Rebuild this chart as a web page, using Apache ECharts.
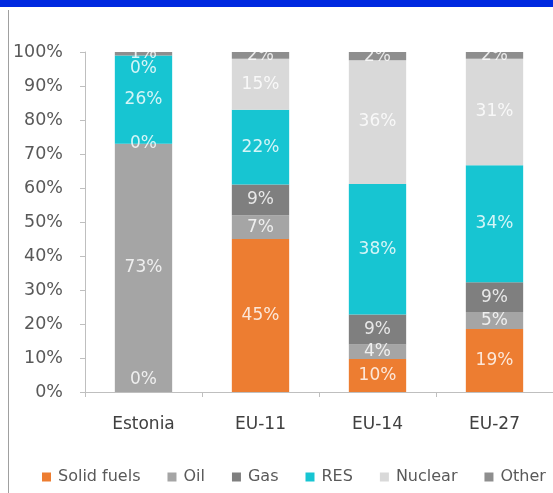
<!DOCTYPE html>
<html>
<head>
<meta charset="utf-8">
<script src="https://cdn.jsdelivr.net/npm/echarts@6/dist/echarts.min.js"></script>
<style>html,body{margin:0;padding:0;background:#fff;}#c{width:553px;height:493px;}</style>
</head>
<body>
<div id="c"></div>
<script>
var categories = ['Estonia', 'EU-11', 'EU-14', 'EU-27'];
var seriesNames = ['Solid fuels', 'Oil', 'Gas', 'RES', 'Nuclear', 'Other'];
var solidFuels = [0, 45, 9.7, 18.5];
var oil = [73, 7, 4.3, 5];
var gas = [0, 9, 8.8, 8.8];
var res = [26, 22, 38.4, 34.4];
var nuclear = [0, 15, 36.4, 31.3];
var other = [1, 2, 2.4, 2];
var yTicks = [0, 10, 20, 30, 40, 50, 60, 70, 80, 90, 100];

var seriesValues = [solidFuels, oil, gas, res, nuclear, other];
var colors = ['#ed7d31', '#a5a5a5', '#7f7f7f', '#17c5d2', '#d9d9d9', '#8e8e8e'];
// vertical nudge for labels of zero-height segments (per series)
var zeroShift = [-12, 3, 0, 0, 13, 0];

var FONT = 'DejaVu Sans';
var chart = echarts.init(document.getElementById('c'), null, {renderer: 'canvas'});

var series = seriesValues.map(function (vals, si) {
  return {
    name: seriesNames[si],
    type: 'bar',
    stack: 'total',
    barWidth: '49%',
    itemStyle: {color: colors[si]},
    label: {
      show: true,
      position: 'inside',
      color: 'rgba(255,255,255,0.82)',
      fontFamily: FONT,
      fontSize: 17,
      formatter: function (p) { return Math.round(p.value) + '%'; }
    },
    data: vals.map(function (v) {
      if (v === 0) return {value: v, label: {offset: [0, zeroShift[si]]}};
      return v;
    })
  };
});

chart.setOption({
  animation: false,
  backgroundColor: '#fff',
  color: colors,
  grid: {left: 85, top: 52, width: 474, bottom: 101, containLabel: false},
  xAxis: {
    type: 'category',
    data: categories,
    axisLine: {lineStyle: {color: '#bfbfbf'}},
    axisTick: {show: true, length: 5, lineStyle: {color: '#bfbfbf'}},
    axisLabel: {color: '#404040', fontFamily: FONT, fontSize: 17, margin: 24}
  },
  yAxis: {
    type: 'value',
    min: yTicks[0],
    max: yTicks[yTicks.length - 1],
    interval: 10,
    splitLine: {show: false},
    axisLine: {show: true, lineStyle: {color: '#bfbfbf'}},
    axisTick: {show: true, length: 5, lineStyle: {color: '#bfbfbf'}},
    axisLabel: {color: '#595959', fontFamily: FONT, fontSize: 17.5, margin: 22,
      formatter: function (v) { return v + '%'; }}
  },
  legend: {
    type: 'plain',
    data: seriesNames,
    left: 37,
    top: 464,
    width: 800,
    itemWidth: 9,
    itemHeight: 9,
    itemGap: 27,
    icon: 'rect',
    textStyle: {color: '#595959', fontFamily: FONT, fontSize: 16, padding: [0, 0, 0, 2]}
  },
  graphic: [
    {type: 'rect', shape: {x: 0, y: 0, width: 553, height: 7}, style: {fill: '#0029e0'}},
    {type: 'line', shape: {x1: 8.5, y1: 10, x2: 8.5, y2: 493}, style: {stroke: '#a0a0a0', lineWidth: 1}}
  ],
  series: series
});
</script>
</body>
</html>
